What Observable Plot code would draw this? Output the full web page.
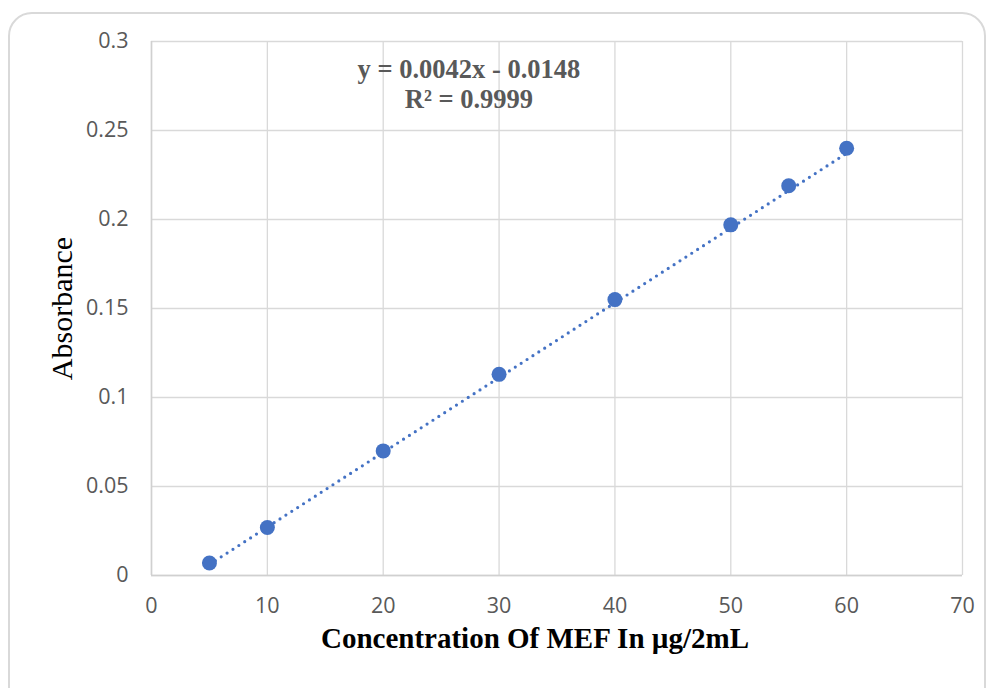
<!DOCTYPE html>
<html>
<head>
<meta charset="utf-8">
<script src="https://cdn.jsdelivr.net/npm/d3@7"></script>
<script src="https://cdn.jsdelivr.net/npm/@observablehq/plot@0.6"></script>
<style>
  html, body { margin: 0; padding: 0; background: #fff; overflow: hidden; }
  #frame { position: absolute; left: 8px; top: 12px; width: 978px; height: 700px;
           border: 2px solid #d9d9d9; border-radius: 24px; box-sizing: border-box; }
  #chart { position: absolute; left: 0; top: 0; }
</style>
</head>
<body>
<div id="frame"></div>
<div id="chart"></div>
<script>
const concentration = [5, 10, 20, 30, 40, 50, 55, 60];
const absorbance = [0.007, 0.027, 0.070, 0.113, 0.155, 0.197, 0.219, 0.240];
const xTicks = [0, 10, 20, 30, 40, 50, 60, 70];
const yTicks = [0, 0.05, 0.1, 0.15, 0.2, 0.25, 0.3];
const yTickLabels = ["0", "0.05", "0.1", "0.15", "0.2", "0.25", "0.3"];
const slope = 0.0042;
const intercept = -0.0148;
const equationText = ["y = 0.0042x - 0.0148", "R² = 0.9999"];
const xLabel = "Concentration Of MEF In µg/2mL";
const yLabel = "Absorbance";

const data = concentration.map((c, i) => ({x: c, y: absorbance[i]}));
const trend = [concentration[0], concentration[concentration.length - 1]].map(x => ({x, y: slope * x + intercept}));

const chart = Plot.plot({
  width: 990,
  height: 688,
  marginLeft: 151,
  marginRight: 28,
  marginTop: 41,
  marginBottom: 113,
  style: {background: "transparent", overflow: "visible"},
  x: {domain: [0, 70]},
  y: {domain: [0, 0.3]},
  marks: [
    Plot.gridX(xTicks, {stroke: "#d9d9d9", strokeOpacity: 1, strokeWidth: 1.3}),
    Plot.gridY(yTicks, {stroke: "#d9d9d9", strokeOpacity: 1, strokeWidth: 1.3}),
    Plot.ruleY([0], {stroke: "#d0d0d0", strokeWidth: 1.5}),
    Plot.ruleX([0], {stroke: "#d0d0d0", strokeWidth: 1.5}),
    Plot.axisX(xTicks, {tickSize: 0, tickPadding: 22, fontSize: 21.5, fill: "#595959",
      fontFamily: "Open Sans", label: null}),
    Plot.axisY(yTicks, {tickSize: 0, tickPadding: 23, fontSize: 21.5, fill: "#595959",
      fontFamily: "Open Sans", label: null, tickFormat: (d) => yTickLabels[yTicks.indexOf(d)]}),
    Plot.line(trend, {x: "x", y: "y", stroke: "#4472C4", strokeWidth: 3.2,
      strokeDasharray: "0 7", strokeLinecap: "round"}),
    Plot.dot(data, {x: "x", y: "y", r: 7.5, fill: "#4472C4", stroke: "none"}),
    Plot.text([equationText.join("\n")], {x: 27.4, y: 0.2765, fontSize: 26.5, fontWeight: "bold",
      fontFamily: "Liberation Serif", fill: "#595959", lineHeight: 1.13, textAnchor: "middle"}),
    Plot.text([xLabel], {frameAnchor: "bottom", dx: -22, dy: 72, fontSize: 29, fontWeight: "bold",
      fontFamily: "Liberation Serif", fill: "#000", textAnchor: "middle"}),
    Plot.text([yLabel], {frameAnchor: "left", dx: -89, rotate: -90, fontSize: 30,
      fontFamily: "Liberation Serif", fill: "#000", textAnchor: "middle"})
  ]
});
document.getElementById("chart").appendChild(chart);
</script>
</body>
</html>
